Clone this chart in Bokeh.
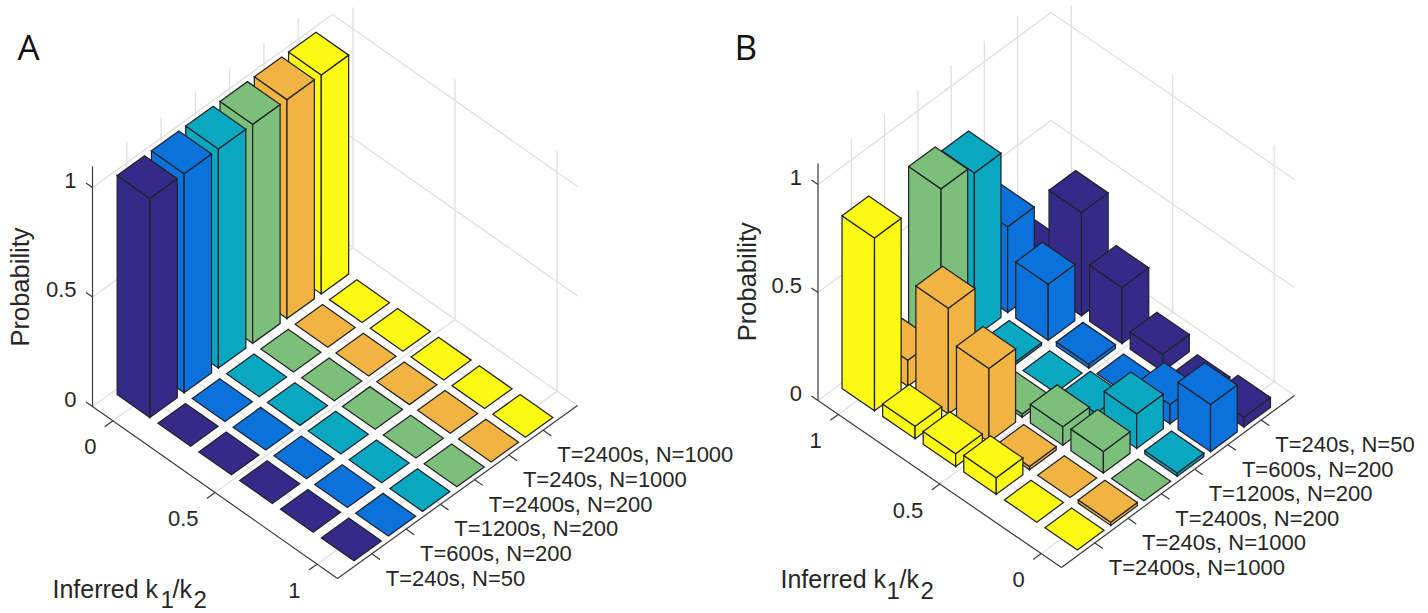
from bokeh.plotting import figure
from bokeh.models import ColumnDataSource, Range1d
from bokeh.core.properties import value
from bokeh.embed import file_html
from bokeh.resources import INLINE
import math

# ---------- data ----------
K_TICKS = [0, 0.5, 1]
K_TICK_LABELS = ["0", "0.5", "1"]
Z_TICKS = [0, 0.5, 1]
Z_TICK_LABELS = ["0", "0.5", "1"]
K_BINS = [0, 0.2, 0.4, 0.6, 0.8, 1.0]

COLORS = ["#352a87", "#0b72dc", "#08a8c0", "#7cbf7b", "#f1b341", "#fbfa12"]

SERIES_LABELS = ["T=240s, N=50", "T=600s, N=200", "T=1200s, N=200",
                 "T=2400s, N=200", "T=240s, N=1000", "T=2400s, N=1000"]

# probabilities per series, in order of K_BINS
A_T240_N50 = [1, 0, 0, 0, 0, 0]
A_T600_N200 = [1, 0, 0, 0, 0, 0]
A_T1200_N200 = [1, 0, 0, 0, 0, 0]
A_T2400_N200 = [1, 0, 0, 0, 0, 0]
A_T240_N1000 = [1, 0, 0, 0, 0, 0]
A_T2400_N1000 = [1, 0, 0, 0, 0, 0]

B_T240_N50 = [0.046, 0.012, 0.08, 0.26, 0.478, 0.12]
B_T600_N200 = [0.218, 0.09, 0.0, 0.018, 0.26, 0.397]
B_T1200_N200 = [0.015, 0.16, 0.034, 0.0, 0.012, 0.76]
B_T2400_N200 = [0.0, 0.10, 0.085, 0.015, 0.0, 0.80]
B_T240_N1000 = [0.015, 0.0, 0.015, 0.34, 0.49, 0.12]
B_T2400_N1000 = [0.0, 0.0, 0.077, 0.059, 0.057, 0.80]

A_VALUES = [A_T240_N50, A_T600_N200, A_T1200_N200, A_T2400_N200, A_T240_N1000, A_T2400_N1000]
B_VALUES = [B_T240_N50, B_T600_N200, B_T1200_N200, B_T2400_N200, B_T240_N1000, B_T2400_N1000]

# ---------- figure: data units = page pixels ----------
p = figure(width=1428, height=613, output_backend="svg", toolbar_location=None,
           x_range=Range1d(0, 1428), y_range=Range1d(613, 0),
           min_border=0, margin=0, background_fill_color="white",
           border_fill_color="white", outline_line_color=None)
p.xaxis.visible = False
p.yaxis.visible = False
p.xgrid.visible = False
p.ygrid.visible = False

FONT = value("Liberation Sans")
INK = "#262626"
NK, NS = 6.0, 7.0
ZTOP = 1.097
BAR = 0.4
BASE_SHIFT = 0.38   # the svg text sits this many ems under the requested baseline


def label(x, y, s, size=22, align="left", angle=0.0, font=FONT, color=INK):
    if angle:
        x -= BASE_SHIFT * size
    else:
        y -= BASE_SHIFT * size
    p.text([x], [y], text=[s], text_font=font, text_font_size=f"{size}px",
           text_align=align, text_baseline="alphabetic", text_color=color, angle=angle)


def panel(values, left, bottom, right, zunit, k_flip, order, sub):
    ku = ((bottom[0] - left[0]) / NK, (bottom[1] - left[1]) / NK)
    qu = ((right[0] - bottom[0]) / NS, (right[1] - bottom[1]) / NS)

    def pr(a, b, z=0.0):
        return (left[0] + a * ku[0] + b * qu[0], left[1] + a * ku[1] + b * qu[1] - z * zunit)

    def kpos(k):
        return (1.1 - k) / 0.2 if k_flip else (k + 0.1) / 0.2

    # grid
    gx, gy = [], []
    def seg(a, b):
        gx.append([a[0], b[0]])
        gy.append([a[1], b[1]])
    for z in Z_TICKS:
        seg(pr(0, 0, z), pr(0, NS, z))
        seg(pr(0, NS, z), pr(NK, NS, z))
    for k in K_TICKS:
        a = kpos(k)
        seg(pr(a, 0), pr(a, NS))
        seg(pr(a, NS), pr(a, NS, ZTOP))
    for i in range(1, 7):
        seg(pr(0, i), pr(NK, i))
        seg(pr(0, i), pr(0, i, ZTOP))
    p.multi_line(gx, gy, line_color="#dfdfdf", line_width=1.3)

    # axes
    ax, ay = [], []
    def aseg(a, b):
        ax.append([a[0], b[0]])
        ay.append([a[1], b[1]])
    aseg(pr(0, 0), pr(0, 0, ZTOP))
    aseg(pr(0, 0), pr(NK, 0))
    aseg(pr(NK, 0), pr(NK, NS))
    for z, s in zip(Z_TICKS, Z_TICK_LABELS):
        aseg(pr(0, 0, z), pr(-0.16, 0, z))
        x0, y0 = pr(0, 0, z)
        label(x0 - 16, y0 + 1, s, align="right")
    ks = list(zip(K_TICKS, K_TICK_LABELS))
    for k, s in ks:
        a = kpos(k)
        aseg(pr(a, 0), pr(a, -0.24))
        x0, y0 = pr(a, 0)
        label(x0 - 16.5, y0 + 34.5, s, align="right")
    for i in order:
        b = order.index(i) + 1
        aseg(pr(NK, b), pr(NK + 0.2, b))
        x0, y0 = pr(NK, b)
        label(x0 + 14, y0 + 33, SERIES_LABELS[i])
    p.multi_line(ax, ay, line_color="#3a3a3a", line_width=1.2)

    # bars, back to front
    cells = []
    for b, i in enumerate(order, start=1):
        for j, v in enumerate(values[i]):
            a = kpos(K_BINS[j])
            cells.append((a - b, a, b, v, COLORS[i]))
    cells.sort(key=lambda c: c[0])
    xs, ys, fc = [], [], []
    def face(pts, color):
        xs.append([t[0] for t in pts])
        ys.append([t[1] for t in pts])
        fc.append(color)
    for _, a, b, v, c in cells:
        L, F, R, B = (a - BAR, b - BAR), (a + BAR, b - BAR), (a + BAR, b + BAR), (a - BAR, b + BAR)
        if v > 0:
            face([pr(*L), pr(*F), pr(*F, v), pr(*L, v)], c)
            face([pr(*F), pr(*R), pr(*R, v), pr(*F, v)], c)
        face([pr(*L, v), pr(*F, v), pr(*R, v), pr(*B, v)], c)
    src = ColumnDataSource(dict(xs=xs, ys=ys, fc=fc))
    p.patches("xs", "ys", source=src, fill_color="fc", line_color="#22222a",
              line_width=1.25, line_join="miter")

    # titles
    label(*sub["prob"], "Probability", size=25.5, angle=math.pi / 2)
    mx, my, sy = sub["infer"]
    label(mx, my, "Inferred k", size=25)
    label(mx + sub["dx"][0], sy, "1", size=24)
    label(mx + sub["dx"][1], my, "/k", size=25)
    label(mx + sub["dx"][2], sy, "2", size=24)


panel(A_VALUES, (92, 406), (337, 578), (577, 405), 219, False, [0, 1, 2, 3, 4, 5],
      dict(prob=(29.3, 346), infer=(52, 598, 608), dx=(108, 120, 141)))
panel(B_VALUES, (817.5, 400), (1061, 567), (1294, 395), 216, True, [5, 4, 3, 2, 1, 0],
      dict(prob=(756, 340.7), infer=(780, 588, 599), dx=(106, 119, 140)))

label(17, 59.3, "A", size=35, font=value("Open Sans"), color="#111111")
label(734, 59.3, "B", size=35, font=value("Open Sans"), color="#111111")

open("out.html", "w").write(file_html(p, INLINE))
